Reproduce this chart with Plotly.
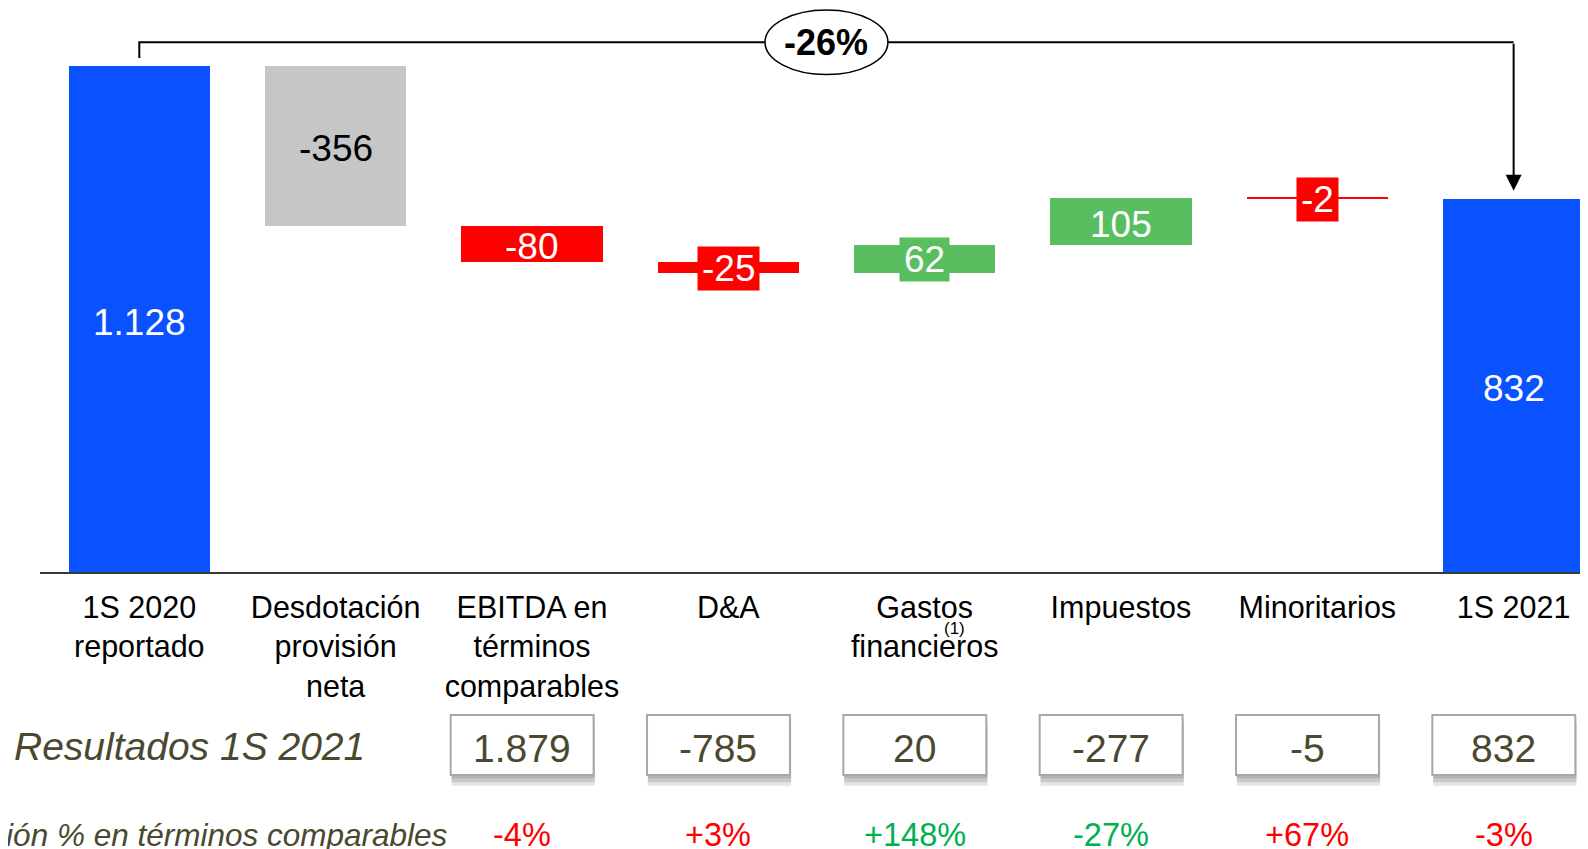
import plotly.graph_objects as go

# ---------------- data ----------------
categories = ["1S 2020<br>reportado", "Desdotación<br>provisión<br>neta",
              "EBITDA en<br>términos<br>comparables", "D&A", "Gastos<br>financieros",
              "Impuestos", "Minoritarios", "1S 2021"]
values = [1128, -356, -80, -25, 62, 105, -2, 832]
measures = ["total", "delta", "delta", "delta", "delta", "delta", "delta", "total"]
value_labels = ["1.128", "-356", "-80", "-25", "62", "105", "-2", "832"]
change_label = "-26%"

results_title = "Resultados 1S 2021"
results_cat_idx = [2, 3, 4, 5, 6, 7]
results_labels = ["1.879", "-785", "20", "-277", "-5", "832"]

pct_title = "Variación % en términos comparables"
pct_labels = ["-4%", "+3%", "+148%", "-27%", "+67%", "-3%"]

# ---------------- styles ----------------
BLUE, GRAY, RED, GREEN = "#0A52FF", "#C6C6C6", "#FF0000", "#59BE5F"
bar_colors = [BLUE, GRAY, RED, RED, GREEN, GREEN, RED, BLUE]
label_colors = ["white", "black", "white", "white", "white", "white", "white", "white"]
boxed_label = [False, False, False, True, True, False, True, False]
pct_colors = ["#FF0000", "#FF0000", "#00B050", "#00B050", "#FF0000", "#FF0000"]
OLIVE = "#4A492F"
FONT = "Liberation Sans, Arial, sans-serif"

# ---------------- waterfall geometry ----------------
bases, heights = [], []
running = 0
for v, m in zip(values, measures):
    if m == "total":
        bases.append(0)
        heights.append(v)
        running = v
    else:
        bases.append(running + min(v, 0))
        heights.append(abs(v))
        running += v

xs = list(range(len(categories)))

fig = go.Figure()
fig.add_trace(go.Bar(
    x=xs, y=heights, base=bases, width=0.72,
    marker=dict(color=bar_colors, line=dict(width=0)),
    hoverinfo="skip", showlegend=False, xaxis="x", yaxis="y",
))

annotations = []
shapes = []

# bar value labels
for i in xs:
    ann = dict(x=i, y=bases[i] + heights[i] / 2, xref="x", yref="y",
               text=value_labels[i], showarrow=False,
               font=dict(size=37, color=label_colors[i], family=FONT),
               xanchor="center", yanchor="middle")
    if boxed_label[i]:
        ann.update(bgcolor=bar_colors[i], borderpad=4, height=35, yshift=-1)
    else:
        ann.update(yshift=-3)
    annotations.append(ann)

# bracket connector with arrow
gap = 18
bracket_y = 1181
first, last = 0, len(values) - 1
shapes.append(dict(type="path", xref="x", yref="y",
                   path=f"M {first},{values[first] + gap} V {bracket_y} H {last}",
                   line=dict(color="black", width=2), layer="above"))
annotations.append(dict(x=last, y=values[last] + gap, ax=last, ay=bracket_y,
                        xref="x", yref="y", axref="x", ayref="y", text="",
                        showarrow=True, arrowhead=2, arrowsize=1.6, arrowwidth=2,
                        arrowcolor="black", standoff=0))
mid = (first + last) / 2
shapes.append(dict(type="circle", xref="x", yref="y",
                   x0=mid - 0.313, x1=mid + 0.313, y0=bracket_y - 72, y1=bracket_y + 72,
                   fillcolor="white", line=dict(color="black", width=1.5), layer="above"))
annotations.append(dict(x=mid, y=bracket_y, xref="x", yref="y", text=f"<b>{change_label}</b>",
                        showarrow=False, font=dict(size=36, color="black", family=FONT)))

W, H = 1580, 841
# footnote marker
annotations.append(dict(x=4.15, y=1 - 620 / H, xref="x", yref="paper", text="(1)",
                        yanchor="middle", xanchor="center",
                        showarrow=False, font=dict(size=17, color="black", family=FONT)))

# ---------------- table rows ----------------
box_shift = -0.05
box_half = 0.364
for k, i in enumerate(results_cat_idx):
    cx = i + box_shift
    # soft shadow
    for off, alpha in [(0.04, 0.10), (0.08, 0.12), (0.12, 0.10)]:
        shapes.append(dict(type="rect", xref="x2", yref="y2",
                           x0=cx - box_half + 0.004, x1=cx + box_half + 0.006,
                           y0=-0.333 + off, y1=0.333 + off,
                           fillcolor=f"rgba(0,0,0,{alpha})", line=dict(width=0), layer="below"))
    shapes.append(dict(type="rect", xref="x2", yref="y2",
                       x0=cx - box_half, x1=cx + box_half, y0=-0.333, y1=0.333,
                       fillcolor="white", line=dict(color="#A8A8A8", width=2), layer="below"))
    annotations.append(dict(x=cx, y=0, xref="x2", yref="y2", text=results_labels[k],
                            yshift=-4, showarrow=False,
                            font=dict(size=39, color=OLIVE, family=FONT)))
    annotations.append(dict(x=cx, y=1, xref="x2", yref="y2", text=pct_labels[k],
                            showarrow=False, font=dict(size=32.5, color=pct_colors[k], family=FONT)))

annotations.append(dict(x=-0.0181, y=0, xref="paper", yref="y2", xanchor="left",
                        text=f"<i>{results_title}</i>", showarrow=False, yshift=-2,
                        font=dict(size=39, color=OLIVE, family=FONT)))
annotations.append(dict(x=0.265, y=1, xref="paper", yref="y2", xanchor="right",
                        text=f"<i>{pct_title}</i>", showarrow=False,
                        font=dict(size=31.5, color=OLIVE, family=FONT)))

x_range = [-0.5058, 7.3788]
split = 277 / H

fig.update_layout(
    width=W, height=H,
    margin=dict(l=32, r=0, t=0, b=0),
    paper_bgcolor="white", plot_bgcolor="rgba(0,0,0,0)",
    font=dict(family=FONT, color="black"),
    bargap=0,
    xaxis=dict(range=x_range, tickmode="array", tickvals=xs, ticktext=categories,
               showline=True, linecolor="#3A3A3A", linewidth=2, ticks="",
               showgrid=False, zeroline=False, anchor="y", fixedrange=True,
               tickfont=dict(size=30.5, color="black", family=FONT), ticklabelstandoff=7),
    yaxis=dict(domain=[split, 1], range=[0, 1257.3], visible=False, fixedrange=True),
    xaxis2=dict(range=x_range, visible=False, anchor="y2", fixedrange=True),
    yaxis2=dict(domain=[0, split], range=[1.156, -1.922], visible=False, fixedrange=True),
    shapes=shapes, annotations=annotations,
)

fig.write_html("out.html")
